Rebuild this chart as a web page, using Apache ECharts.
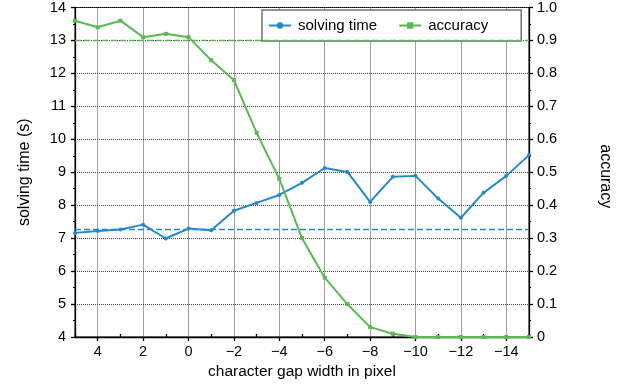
<!DOCTYPE html>
<html>
<head>
<meta charset="utf-8">
<script src="https://cdn.jsdelivr.net/npm/echarts@6/dist/echarts.min.js"></script>
<style>
html,body{margin:0;padding:0;background:#fff;}
#c{width:623px;height:385px;}
</style>
</head>
<body>
<div id="c"></div>
<script>
var gapWidth = [5,4,3,2,1,0,-1,-2,-3,-4,-5,-6,-7,-8,-9,-10,-11,-12,-13,-14,-15];
var solvingTime = [7.16,7.22,7.26,7.41,6.99,7.29,7.24,7.83,8.07,8.31,8.68,9.13,9.01,8.10,8.86,8.89,8.20,7.62,8.38,8.89,9.52];
var accuracy = [0.96,0.94,0.96,0.91,0.92,0.91,0.84,0.78,0.62,0.48,0.30,0.18,0.10,0.03,0.01,0,0,0,0,0,0];
var timeRef = 7.28;
var accuracyRef = 0.9;

var BLUE = '#2489c6';
var GREEN = '#5cb853';
var FONT = 'Liberation Sans';

function minus(v){ return String(v).replace('-', '\u2212'); }

var chart = echarts.init(document.getElementById('c'), null, {renderer:'canvas'});
chart.setOption({
  animation: false,
  backgroundColor: '#fff',
  textStyle: {fontFamily: FONT},
  grid: {left: 75, right: 94, top: 7, bottom: 48, show: true, borderColor: '#000', borderWidth: 1, backgroundColor: 'transparent'},
  legend: {
    left: 262, top: 10,
    padding: [8, 33, 8, 6],
    itemGap: 21,
    itemWidth: 22, itemHeight: 8,
    backgroundColor: '#fff',
    borderColor: '#707070', borderWidth: 1.5,
    textStyle: {fontFamily: FONT, fontSize: 15, color: '#000', padding: [0, 0, 0, 2]},
    data: ['solving time', 'accuracy']
  },
  xAxis: [{
    type: 'category',
    data: gapWidth,
    boundaryGap: false,
    name: 'character gap width in pixel',
    nameLocation: 'middle',
    nameGap: 27,
    nameTextStyle: {fontFamily: FONT, fontSize: 15.5, color: '#000'},
    axisLine: {lineStyle: {color: '#000', width: 1.3}},
    axisTick: {inside: false, length: 4, interval: function(i){ return i % 2 === 1; }, lineStyle: {color: '#000', width: 1.3}},
    axisLabel: {interval: function(i){ return i % 2 === 1; }, formatter: minus, fontFamily: FONT, fontSize: 14.5, color: '#000', margin: 7},
    splitLine: {show: true, interval: function(i){ return i % 2 === 1; }, lineStyle: {type: 'dotted', color: '#444', width: 1}}
  }, {
    type: 'category',
    data: gapWidth,
    boundaryGap: false,
    position: 'bottom',
    axisLine: {show: false},
    axisTick: {inside: true, length: 3, interval: function(i){ return i % 2 === 0; }, lineStyle: {color: '#000', width: 1.3}},
    axisLabel: {show: false},
    splitLine: {show: false}
  }],
  yAxis: [{
    type: 'value',
    min: 4, max: 14, interval: 1,
    name: 'solving time (s)',
    nameLocation: 'middle',
    nameGap: 42,
    nameTextStyle: {fontFamily: FONT, fontSize: 16, color: '#000'},
    axisLine: {show: true, lineStyle: {color: '#000', width: 1.3}},
    axisTick: {show: true, length: 4, lineStyle: {color: '#000', width: 1.3}},
    minorTick: {show: true, splitNumber: 2, length: 2, lineStyle: {color: '#000', width: 1}},
    axisLabel: {fontFamily: FONT, fontSize: 14.5, color: '#000', margin: 9},
    splitLine: {show: true, lineStyle: {type: 'dotted', color: '#444', width: 1}}
  }, {
    type: 'value',
    min: 0, max: 1, interval: 0.1,
    position: 'right',
    name: 'accuracy',
    nameLocation: 'middle',
    nameRotate: -90,
    nameGap: 68,
    nameTextStyle: {fontFamily: FONT, fontSize: 16, color: '#000', padding: [0, 0, 0, 8]},
    axisLine: {show: true, lineStyle: {color: '#000', width: 1.3}},
    axisTick: {show: true, length: 4, lineStyle: {color: '#000', width: 1.3}},
    minorTick: {show: true, splitNumber: 2, length: 2, lineStyle: {color: '#000', width: 1}},
    axisLabel: {fontFamily: FONT, fontSize: 14.5, color: '#000', margin: 8,
      formatter: function(v){ return v === 0 ? '0' : v.toFixed(1); }},
    splitLine: {show: false}
  }],
  series: [{
    name: 'solving time',
    type: 'line',
    xAxisIndex: 0, yAxisIndex: 0,
    data: solvingTime,
    symbol: 'circle', symbolSize: 4,
    lineStyle: {color: BLUE, width: 2},
    itemStyle: {color: BLUE},
    markLine: {
      silent: true, symbol: 'none', label: {show: false},
      lineStyle: {color: BLUE, type: [6, 3], width: 1.3},
      data: [{yAxis: timeRef}]
    }
  }, {
    name: 'accuracy',
    type: 'line',
    xAxisIndex: 0, yAxisIndex: 1,
    data: accuracy,
    symbol: 'rect', symbolSize: 4,
    lineStyle: {color: GREEN, width: 2},
    itemStyle: {color: GREEN},
    markLine: {
      silent: true, symbol: 'none', label: {show: false},
      lineStyle: {color: GREEN, type: [6, 3], width: 1.3},
      data: [{yAxis: accuracyRef}]
    }
  }]
});
</script>
</body>
</html>
